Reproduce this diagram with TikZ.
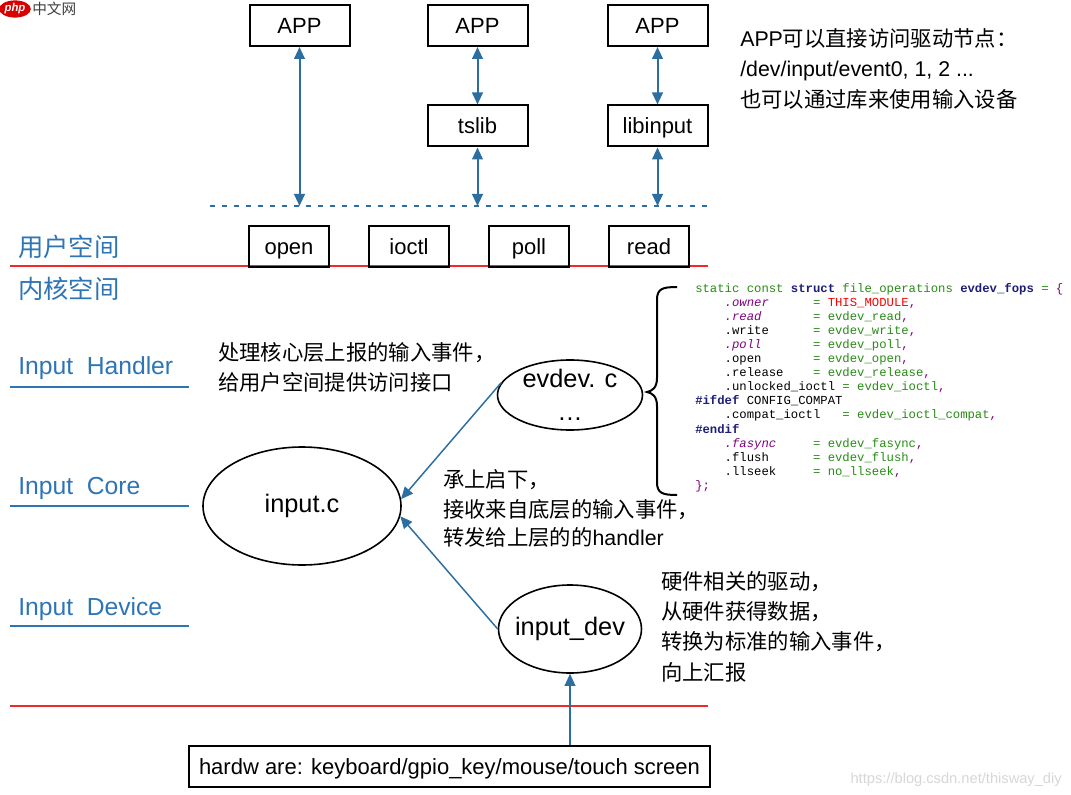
\documentclass[tikz,border=0pt]{standalone}
\usepackage{fontspec}
\setmainfont{Liberation Sans}
\setmonofont{Liberation Mono}
\newfontfamily\cjk{Noto Sans CJK SC}
\usetikzlibrary{shapes.geometric,arrows.meta}
\definecolor{lblue}{RGB}{46,117,182}
\definecolor{arrblue}{RGB}{44,110,160}
\definecolor{cgreen}{RGB}{40,140,20}
\definecolor{cnavy}{RGB}{30,30,120}
\definecolor{cpurple}{RGB}{128,0,128}
\definecolor{cred}{RGB}{255,0,0}
\definecolor{wmgray}{RGB}{215,215,215}
\definecolor{redline}{RGB}{240,40,40}
\begin{document}
\begin{tikzpicture}[x=0.75pt,y=-0.75pt,
 sqbox/.style={draw=black,line width=1.5pt,inner sep=0pt,minimum height=30.75pt,text height=11.8pt,text depth=0pt,font=\fontsize{16.5}{18}\selectfont},
 bigbox/.style={sqbox,minimum width=75pt},
 smallbox/.style={sqbox,minimum width=60pt},
 ell/.style={ellipse,draw=black,line width=1.2pt,inner sep=0pt,font=\fontsize{19}{25}\selectfont,align=center},
 darr/.style={draw=arrblue,line width=1.5pt,{Triangle[length=9pt,width=8pt]}-{Triangle[length=9pt,width=8pt]}},
 uarr/.style={draw=arrblue,line width=1.1pt,-{Triangle[length=9pt,width=8pt]}},
 layerlbl/.style={anchor=base west,inner sep=0pt,text=lblue,font=\fontsize{18.5}{20}\selectfont},
 zonelbl/.style={anchor=base west,inner sep=0pt,text=lblue,font=\cjk\fontsize{19}{20}\selectfont},
 notetext/.style={anchor=base west,inner sep=0pt,font=\fontsize{16}{20}\selectfont},
 codeln/.style={anchor=base west,inner sep=0pt,font=\ttfamily\fontsize{9.2}{10}\selectfont},
 redln/.style={draw=redline,line width=1.5pt},
 uline/.style={draw=lblue,line width=1.5pt},
]
\useasboundingbox (0,0) rectangle (1071,795);
\fill[white] (0,0) rectangle (1071,795);

% watermarks
\node[fill=red!85!black,ellipse,inner sep=0.6pt,text=white,font=\itshape\bfseries\fontsize{8.5}{9}\selectfont] (phplogo) at (15,9) {php};
\node[anchor=west,inner sep=0pt,text=black!75,font=\cjk\fontsize{11}{11}\selectfont] (phpcn) at (32,9) {中文网};
\node[anchor=base east,inner sep=0pt,text=wmgray,font=\fontsize{11}{11}\selectfont] (wm) at (1062,783) {https://blog.csdn.net/thisway\_diy};

% separator lines
\draw[redln] (10,266) -- (708,266);
\draw[redln] (10,706) -- (708,706);
\coordinate (dotL) at (210,206);
\coordinate (dotR) at (708,206);
\draw[arrblue,line width=1.5pt,dash pattern=on 4pt off 5pt] (dotL) -- (dotR);

% user space boxes
\node[bigbox] (app1) at (299.5,25.5) {APP};
\node[bigbox] (app2) at (477.5,25.5) {APP};
\node[bigbox] (app3) at (657.5,25.5) {APP};
\node[bigbox] (tslib) at (477.5,126) {tslib};
\node[bigbox] (libinput) at (657.5,126) {libinput};
\node[smallbox] (open) at (289,246.5) {open};
\node[smallbox] (ioctl) at (409,246.5) {ioctl};
\node[smallbox] (poll) at (529,246.5) {poll};
\node[smallbox] (read) at (649,246.5) {read};

\draw[darr] (app1.south) -- (app1.south |- dotL);
\draw[darr] (app2.south) -- (tslib.north);
\draw[darr] (tslib.south) -- (tslib.south |- dotL);
\draw[darr] (app3.south) -- (libinput.north);
\draw[darr] (libinput.south) -- (libinput.south |- dotL);

% labels
\node[zonelbl] (user) at (18,257) {用户空间};
\node[zonelbl] (kernel) at (18,298) {内核空间};
\node[layerlbl] (lh) at (18,374) {Input\ \ Handler};
\node[layerlbl] (lc) at (18,494) {Input\ \ Core};
\node[layerlbl] (ld) at (18,615) {Input\ \ Device};
\draw[uline] (10,387) -- (189,387);
\draw[uline] (10,506) -- (189,506);
\draw[uline] (10,626) -- (189,626);

% notes
\node[notetext] (n1) at (740,47) {APP{\cjk 可以直接访问驱动节点：}};
\node[notetext] (n2) at (740,77) {/dev/input/event0, 1, 2 ...};
\node[notetext] (n3) at (740,108) {{\cjk 也可以通过库来使用输入设备}};
\node[notetext] (h1) at (218,360) {{\cjk 处理核心层上报的输入事件，}};
\node[notetext] (h2) at (218,390) {{\cjk 给用户空间提供访问接口}};
\node[notetext] (k1) at (443,487) {{\cjk 承上启下，}};
\node[notetext] (k2) at (443,517) {{\cjk 接收来自底层的输入事件，}};
\node[notetext] (k3) at (443,545) {{\cjk 转发给上层的的}handler};
\node[notetext] (d1) at (661,589) {{\cjk 硬件相关的驱动，}};
\node[notetext] (d2) at (661,619) {{\cjk 从硬件获得数据，}};
\node[notetext] (d3) at (661,649) {{\cjk 转换为标准的输入事件，}};
\node[notetext] (d4) at (661,680) {{\cjk 向上汇报}};

% ellipses
\node[ell,minimum width=108.75pt,minimum height=52.5pt,inner ysep=-3pt] (evdev) at (570,395) {evdev. c\\…};
\node[ell,minimum width=148.5pt,minimum height=88.5pt] (inputc) at (302,506) {input.c};
\node[ell,minimum width=107.25pt,minimum height=66pt,inner xsep=-8pt] (inputdev) at (570,629) {input\_dev};

\node[sqbox,minimum width=390.75pt] (hw) at (449.5,766.5) {hardw are: keyboard/gpio\_key/mouse/touch screen};

\draw[uarr] (evdev.170) -- (inputc.4);
\draw[uarr] (inputdev.west) -- (inputc.-6);
\draw[uarr] (hw.north -| inputdev.south) -- (inputdev.south);

% brace
\draw[line width=1.5pt] (677,287) .. controls (662,287) and (657,289) .. (657,300) -- (657,378)
  .. controls (657,388) and (652,391) .. (647,392) .. controls (652,393) and (657,396) .. (657,406)
  -- (657,482) .. controls (657,493) and (662,495) .. (677,495);

% code
\node[codeln] (c0) at (695,292) {\textcolor{cgreen}{static~const}~\textcolor{cnavy}{\bfseries struct}~\textcolor{cgreen}{file\_operations}~\textcolor{cnavy}{\bfseries evdev\_fops}~\textcolor{cgreen}{=}~\textcolor{cpurple}{\{}};
\node[codeln] (c1) at (695,306.1) {~~~~\textcolor{cpurple}{\itshape .owner}~~~~~~\textcolor{cgreen}{=}~\textcolor{cred}{THIS\_MODULE}\textcolor{cpurple}{,}};
\node[codeln] (c2) at (695,320.2) {~~~~\textcolor{cpurple}{\itshape .read}~~~~~~~\textcolor{cgreen}{=~evdev\_read}\textcolor{cpurple}{,}};
\node[codeln] (c3) at (695,334.3) {~~~~.write~~~~~~\textcolor{cgreen}{=~evdev\_write}\textcolor{cpurple}{,}};
\node[codeln] (c4) at (695,348.4) {~~~~\textcolor{cpurple}{\itshape .poll}~~~~~~~\textcolor{cgreen}{=~evdev\_poll}\textcolor{cpurple}{,}};
\node[codeln] (c5) at (695,362.5) {~~~~.open~~~~~~~\textcolor{cgreen}{=~evdev\_open}\textcolor{cpurple}{,}};
\node[codeln] (c6) at (695,376.6) {~~~~.release~~~~\textcolor{cgreen}{=~evdev\_release}\textcolor{cpurple}{,}};
\node[codeln] (c7) at (695,390.7) {~~~~.unlocked\_ioctl~\textcolor{cgreen}{=~evdev\_ioctl}\textcolor{cpurple}{,}};
\node[codeln] (c8) at (695,404.8) {\textcolor{cnavy}{\bfseries \#ifdef}~CONFIG\_COMPAT};
\node[codeln] (c9) at (695,418.9) {~~~~.compat\_ioctl~~~\textcolor{cgreen}{=~evdev\_ioctl\_compat}\textcolor{cpurple}{,}};
\node[codeln] (c10) at (695,433) {\textcolor{cnavy}{\bfseries \#endif}};
\node[codeln] (c11) at (695,447.1) {~~~~\textcolor{cpurple}{\itshape .fasync}~~~~~\textcolor{cgreen}{=~evdev\_fasync}\textcolor{cpurple}{,}};
\node[codeln] (c12) at (695,461.2) {~~~~.flush~~~~~~\textcolor{cgreen}{=~evdev\_flush}\textcolor{cpurple}{,}};
\node[codeln] (c13) at (695,475.3) {~~~~.llseek~~~~~\textcolor{cgreen}{=~no\_llseek}\textcolor{cpurple}{,}};
\node[codeln] (c14) at (695,489.4) {\textcolor{cpurple}{\};}};
\end{tikzpicture}
\end{document}
